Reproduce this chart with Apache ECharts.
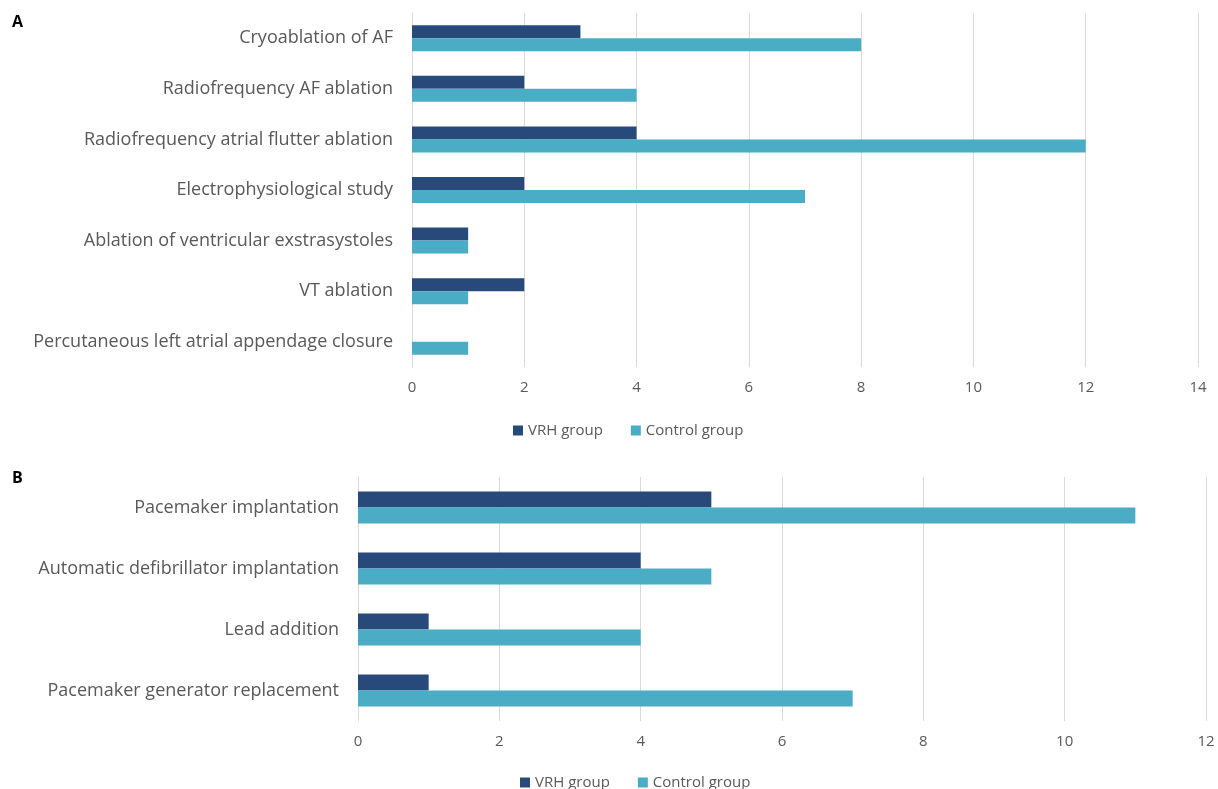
<!DOCTYPE html>
<html>
<head>
<meta charset="utf-8">
<script src="https://cdn.jsdelivr.net/npm/echarts@6/dist/echarts.min.js"></script>
<style>
  html, body { margin: 0; padding: 0; background: #fff; }
  #main { width: 1218px; height: 789px; }
</style>
</head>
<body>
<div id="main"></div>
<script>
// panel A: electrophysiology procedures
var catsA = [
  'Cryoablation of AF',
  'Radiofrequency AF ablation',
  'Radiofrequency atrial flutter ablation',
  'Electrophysiological study',
  'Ablation of ventricular exstrasystoles',
  'VT ablation',
  'Percutaneous left atrial appendage closure'
]
var vrhA = [3, 2, 4, 2, 1, 2, 0]
var controlA = [8, 4, 12, 7, 1, 1, 1]

// panel B: device procedures
var catsB = [
  'Pacemaker implantation',
  'Automatic defibrillator implantation',
  'Lead addition',
  'Pacemaker generator replacement'
]
var vrhB = [5, 4, 1, 1]
var controlB = [11, 5, 4, 7]

var darkBlue = '#284a7b'
var lightBlue = '#4bacc6'
var textGray = '#595959'
var lineGray = '#d9d9d9'
var font = 'Open Sans'

function yAxis(cats, idx) {
  return {
    type: 'category',
    gridIndex: idx,
    data: cats,
    inverse: true,
    axisTick: { show: false },
    axisLine: { show: true, lineStyle: { color: lineGray } },
    axisLabel: { color: textGray, fontSize: 18, fontFamily: font, margin: 19 }
  }
}

function xAxis(max, idx) {
  return {
    type: 'value',
    gridIndex: idx,
    min: 0,
    max: max,
    interval: 2,
    axisLine: { show: false },
    axisTick: { show: false },
    splitLine: { show: true, lineStyle: { color: lineGray } },
    axisLabel: { color: textGray, fontSize: 15, fontFamily: font, margin: 13 }
  }
}

function bar(name, data, idx, color, width) {
  return {
    type: 'bar',
    name: name,
    xAxisIndex: idx,
    yAxisIndex: idx,
    data: data,
    barWidth: width,
    barGap: '0%',
    itemStyle: { color: color }
  }
}

var legendStyle = {
  icon: 'rect',
  itemWidth: 10,
  itemHeight: 10,
  itemGap: 28,
  textStyle: { color: textGray, fontSize: 15, fontFamily: font }
}

var option = {
  animation: false,
  title: [
    { text: 'A', left: 7, top: 9, textStyle: { fontSize: 16, fontWeight: 'bold', color: '#000', fontFamily: font } },
    { text: 'B', left: 7, top: 465, textStyle: { fontSize: 16, fontWeight: 'bold', color: '#000', fontFamily: font } }
  ],
  legend: [
    Object.assign({ data: ['VRH group', 'Control group'], left: 508, top: 418 }, legendStyle),
    Object.assign({ data: ['VRH group', 'Control group'], left: 515, top: 770 }, legendStyle)
  ],
  grid: [
    { left: 412, right: 20, top: 13, height: 354 },
    { left: 358, right: 12, top: 477, height: 244 }
  ],
  xAxis: [xAxis(14, 0), xAxis(12, 1)],
  yAxis: [yAxis(catsA, 0), yAxis(catsB, 1)],
  series: [
    bar('VRH group', vrhA, 0, darkBlue, 13),
    bar('Control group', controlA, 0, lightBlue, 13),
    bar('VRH group', vrhB, 1, darkBlue, 16),
    bar('Control group', controlB, 1, lightBlue, 16)
  ]
}

var myChart = echarts.init(document.getElementById('main'))
myChart.setOption(option)
</script>
</body>
</html>
